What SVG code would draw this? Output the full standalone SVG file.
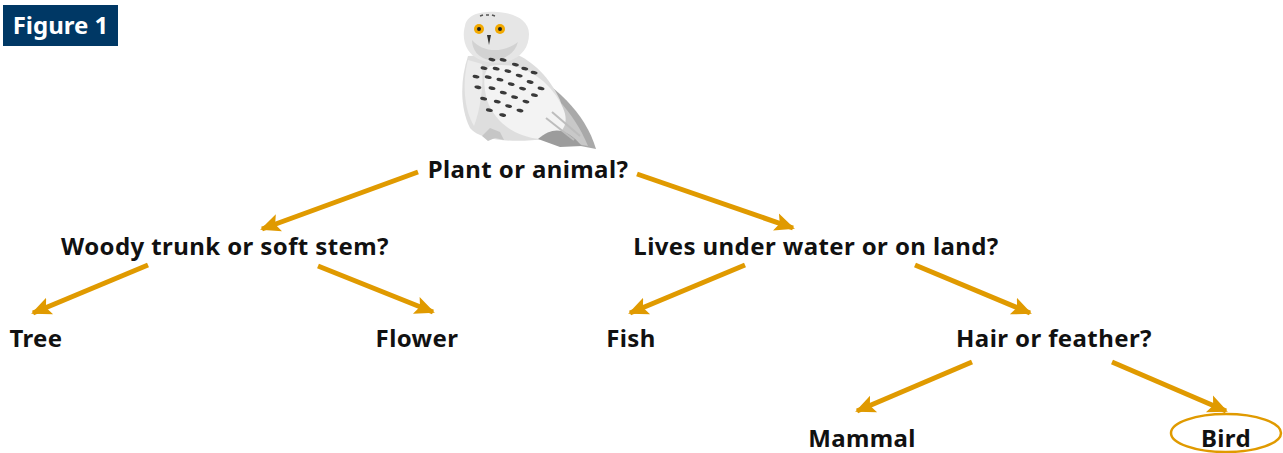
<svg xmlns="http://www.w3.org/2000/svg" width="1283" height="453" viewBox="0 0 1283 453">
  <style>
    .lbl { font-family: "Noto Sans", "Open Sans", sans-serif; font-weight: bold; font-size: 24px; letter-spacing: 0.4px; fill: #111; }
    .fig { font-family: "Noto Sans", "Open Sans", sans-serif; font-weight: bold; font-size: 24px; fill: #fff; }
    .edge { stroke: #e09a00; stroke-width: 5; fill: none; marker-end: url(#head); }
    .spot { fill: #3a3a3a; }
  </style>
  <defs>
    <marker id="head" markerUnits="userSpaceOnUse" markerWidth="22" markerHeight="22" viewBox="0 0 22 22" refX="18" refY="11" orient="auto">
      <path d="M0,2 L20,11 L0,20 L4,11 Z" fill="#e09a00"/>
    </marker>
  </defs>
  <rect width="1283" height="453" fill="#fff"/>

  <g id="figure-label">
    <rect x="3" y="5" width="115" height="41" fill="#003865"/>
    <text class="fig" x="60.5" y="34" text-anchor="middle">Figure 1</text>
  </g>

  <g id="owl">
    <!-- tail and back -->
    <path d="M515,62 C555,85 585,112 596,149 L560,142 L528,134 Z" fill="#a9a9a9"/>
    <path d="M512,64 C548,84 574,112 588,146 L548,139 Z" fill="#c8c8c8"/>
    <!-- body -->
    <path d="M468,56 C460,80 460,108 470,128 C480,141 515,143 545,139 C562,132 566,118 560,100 C550,78 532,60 515,54 Z" fill="#dedede"/>
    <!-- breast and wing -->
    <path d="M468,60 C462,82 464,110 474,126 C480,110 484,86 482,64 Z" fill="#ececec"/>
    <path d="M490,66 C522,60 550,80 563,108 C571,126 560,139 540,139 C514,137 494,121 487,100 C483,84 483,72 490,66 Z" fill="#f3f3f3"/>
    <path d="M538,139 C555,124 568,130 582,146 L560,147 Z" fill="#9c9c9c"/>
    <path d="M546,118 L574,140 M552,112 L580,136" stroke="#bdbdbd" stroke-width="2"/>
    <!-- head -->
    <path d="M465,26 C467,14 482,11 497,12 C514,13 529,20 529,34 C529,48 521,58 506,62 C490,65 474,60 468,50 C463,42 463,33 465,26 Z" fill="#e6e6e6"/>
    <path d="M472,40 C482,52 502,54 518,42 C514,56 501,61 490,60 C479,59 472,50 472,40 Z" fill="#d2d2d2"/>
    <!-- eyes and beak -->
    <circle cx="479" cy="29" r="5" fill="#f2a900"/>
    <circle cx="500" cy="29" r="5" fill="#f2a900"/>
    <circle cx="479" cy="29" r="2" fill="#222"/>
    <circle cx="500" cy="29" r="2" fill="#222"/>
    <path d="M487,35 L491,35 L489,45 Z" fill="#333"/>
    <path d="M480,16 l3,-1 M486,15 l3,0 M492,15 l3,1" stroke="#555" stroke-width="1.5"/>
    <!-- feet -->
    <path d="M482,136 L490,128 L500,132 L504,140 L495,138 L488,141 Z" fill="#c6c6c6"/>
    <!-- spots -->
    <g class="spot" transform="rotate(12 510 90)">
      <ellipse cx="486" cy="64" rx="3.5" ry="1.7"/>
      <ellipse cx="497" cy="62" rx="3.5" ry="1.7"/>
      <ellipse cx="510" cy="64" rx="3.5" ry="1.7"/>
      <ellipse cx="520" cy="66" rx="3.5" ry="1.7"/>
      <ellipse cx="530" cy="68" rx="3.5" ry="1.7"/>
      <ellipse cx="480" cy="74" rx="3.5" ry="1.7"/>
      <ellipse cx="492" cy="72" rx="3.5" ry="1.7"/>
      <ellipse cx="504" cy="72" rx="3.5" ry="1.7"/>
      <ellipse cx="516" cy="74" rx="3.5" ry="1.7"/>
      <ellipse cx="528" cy="78" rx="3.5" ry="1.7"/>
      <ellipse cx="540" cy="82" rx="3.5" ry="1.7"/>
      <ellipse cx="474" cy="84" rx="3.5" ry="1.7"/>
      <ellipse cx="486" cy="82" rx="3.5" ry="1.7"/>
      <ellipse cx="498" cy="82" rx="3.5" ry="1.7"/>
      <ellipse cx="510" cy="84" rx="3.5" ry="1.7"/>
      <ellipse cx="522" cy="86" rx="3.5" ry="1.7"/>
      <ellipse cx="535" cy="90" rx="3.5" ry="1.7"/>
      <ellipse cx="478" cy="94" rx="3.5" ry="1.7"/>
      <ellipse cx="492" cy="92" rx="3.5" ry="1.7"/>
      <ellipse cx="504" cy="94" rx="3.5" ry="1.7"/>
      <ellipse cx="516" cy="96" rx="3.5" ry="1.7"/>
      <ellipse cx="528" cy="98" rx="3.5" ry="1.7"/>
      <ellipse cx="486" cy="104" rx="3.5" ry="1.7"/>
      <ellipse cx="500" cy="104" rx="3.5" ry="1.7"/>
      <ellipse cx="512" cy="106" rx="3.5" ry="1.7"/>
      <ellipse cx="524" cy="108" rx="3.5" ry="1.7"/>
      <ellipse cx="494" cy="114" rx="3.5" ry="1.7"/>
      <ellipse cx="508" cy="116" rx="3.5" ry="1.7"/>
    </g>
  </g>

  <g id="connectors">
    <line class="edge" x1="418" y1="172" x2="262" y2="229"/>
    <line class="edge" x1="637" y1="174" x2="793" y2="228"/>
    <line class="edge" x1="148" y1="265" x2="33" y2="313"/>
    <line class="edge" x1="318" y1="266" x2="433" y2="312"/>
    <line class="edge" x1="745" y1="265" x2="630" y2="313"/>
    <line class="edge" x1="915" y1="265" x2="1030" y2="313"/>
    <line class="edge" x1="972" y1="362" x2="857" y2="411"/>
    <line class="edge" x1="1112" y1="362" x2="1226" y2="411"/>
  </g>

  <g id="n-plant-or-animal"><text class="lbl" x="528" y="178" text-anchor="middle">Plant or animal?</text></g>
  <g id="n-woody-or-soft"><text class="lbl" x="225" y="255" text-anchor="middle">Woody trunk or soft stem?</text></g>
  <g id="n-water-or-land"><text class="lbl" x="816" y="255" text-anchor="middle">Lives under water or on land?</text></g>
  <g id="n-tree"><text class="lbl" x="36" y="347" text-anchor="middle">Tree</text></g>
  <g id="n-flower"><text class="lbl" x="417" y="347" text-anchor="middle">Flower</text></g>
  <g id="n-fish"><text class="lbl" x="631" y="347" text-anchor="middle">Fish</text></g>
  <g id="n-hair-or-feather"><text class="lbl" x="1054" y="347" text-anchor="middle">Hair or feather?</text></g>
  <g id="n-mammal"><text class="lbl" x="862" y="447" text-anchor="middle">Mammal</text></g>
  <g id="n-bird">
    <ellipse cx="1226" cy="433" rx="55" ry="19" fill="none" stroke="#e09a00" stroke-width="2.5"/>
    <text class="lbl" x="1226" y="447" text-anchor="middle">Bird</text>
  </g>
</svg>
